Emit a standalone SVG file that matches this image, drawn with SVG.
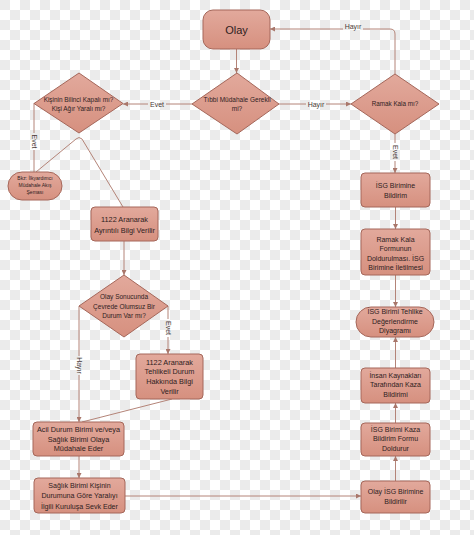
<svg xmlns="http://www.w3.org/2000/svg" width="474" height="535" viewBox="0 0 474 535">
<defs>
<pattern id="chk" x="0" y="0" width="20" height="20" patternUnits="userSpaceOnUse">
<rect width="20" height="20" fill="#ffffff"/>
<rect width="10" height="10" fill="#ebebeb"/>
<rect x="10" y="10" width="10" height="10" fill="#ebebeb"/>
</pattern>
<linearGradient id="nodeFill" x1="0" y1="0" x2="0" y2="1">
<stop offset="0" stop-color="#e2a99c"/>
<stop offset="1" stop-color="#d6907f"/>
</linearGradient>
<marker id="arr" viewBox="0 0 6 6" refX="6" refY="3" markerWidth="5" markerHeight="5" orient="auto" markerUnits="userSpaceOnUse">
<path d="M0,0 L6,3 L0,6 Z" fill="#a9776b"/>
</marker>
</defs>
<style>
.n{fill:url(#nodeFill);stroke:#a5675a;stroke-width:1}
.t{font-family:"Liberation Sans",Arial,sans-serif;fill:#2e211e;text-anchor:middle}
.c{fill:none;stroke:#b48478;stroke-width:1}
.l{font-family:"Liberation Sans",Arial,sans-serif;fill:#4a3a36;font-size:7px;text-anchor:middle}
</style>
<rect width="474" height="535" fill="url(#chk)"/>

<g id="connectors">
<path class="c" d="M236.5 49 V73" marker-end="url(#arr)"/>
<path class="c" d="M192 104 H166"/>
<path class="c" d="M148 104 H123" marker-end="url(#arr)"/>
<text class="l" x="157" y="106.5">Evet</text>
<path class="c" d="M279 104 H306"/>
<path class="c" d="M326 104 H351" marker-end="url(#arr)"/>
<text class="l" x="316" y="106.5">Hayır</text>
<path class="c" d="M395 74 V34 Q395 29 390 29 H363"/>
<path class="c" d="M343 29 H270" marker-end="url(#arr)"/>
<text class="l" x="353" y="28.8">Hayır</text>
<path class="c" d="M395 134 V143"/>
<path class="c" d="M395 161 V173" marker-end="url(#arr)"/>
<text class="l" transform="translate(395 152) rotate(90)" x="0" y="2.5">Evet</text>
<path class="c" d="M395.5 207 V229" marker-end="url(#arr)"/>
<path class="c" d="M395.5 275 V307" marker-end="url(#arr)"/>
<path class="c" d="M395.5 368 V337" marker-end="url(#arr)"/>
<path class="c" d="M395.5 423 V403" marker-end="url(#arr)"/>
<path class="c" d="M395.5 481 V456" marker-end="url(#arr)"/>
<path class="c" d="M125 496 H361" marker-end="url(#arr)"/>
<path class="c" d="M34 103 V133"/>
<path class="c" d="M34 150 V172"/>
<text class="l" transform="translate(34 141.5) rotate(90)" x="0" y="2.5">Evet</text>
<path class="c" d="M36 172 L76 139 Q79 136 82 139 L123 207"/>
<path class="c" d="M124 241 V275" marker-end="url(#arr)"/>
<path class="c" d="M79 306 V356"/>
<path class="c" d="M79 375 V422" marker-end="url(#arr)"/>
<text class="l" transform="translate(79 365.5) rotate(90)" x="0" y="2.5">Hayır</text>
<path class="c" d="M168 306 V319"/>
<path class="c" d="M168 337 V354" marker-end="url(#arr)"/>
<text class="l" transform="translate(168 328) rotate(90)" x="0" y="2.5">Evet</text>
<path class="c" d="M172 399 L82 422"/>
<path class="c" d="M79 456 V478" marker-end="url(#arr)"/>
</g>

<g id="olay">
<rect class="n" x="203" y="10" width="67" height="39" rx="10"/>
<text class="t" x="236.5" y="33.5" font-size="11">Olay</text>
</g>
<g id="tibbi">
<polygon class="n" points="237,73 279,104 237,134 192,104"/>
<text class="t" font-size="6.5"><tspan x="237" y="101.8">Tıbbi Müdahale Gerekli</tspan><tspan x="237" y="111.3">mi?</tspan></text>
</g>
<g id="bilinc">
<polygon class="n" points="79,73 123,103.5 79,133 34,103.5"/>
<text class="t" font-size="6.4"><tspan x="78.5" y="101.6">Kişinin Bilinci Kapalı mı?</tspan><tspan x="78.5" y="110.6">Kişi Ağır Yaralı mı?</tspan></text>
</g>
<g id="ramak">
<polygon class="n" points="395,74 439,104 395,134 351,104"/>
<text class="t" font-size="6.3" x="395" y="106.3">Ramak Kala mı?</text>
</g>
<g id="bkz">
<rect class="n" x="8" y="172" width="54" height="28" rx="14"/>
<text class="t" font-size="5"><tspan x="35" y="179.8">Bkz: İlkyardımcı</tspan><tspan x="35" y="186.8">Müdahale Akış</tspan><tspan x="35" y="193.8">Şeması</tspan></text>
</g>
<g id="ayrintili">
<rect class="n" x="91" y="207" width="67" height="34" rx="4"/>
<text class="t" font-size="7.3"><tspan x="124.5" y="221.8">1122 Aranarak</tspan><tspan x="124.5" y="232.5">Ayrıntılı Bilgi Verilir</tspan></text>
</g>
<g id="sonucunda">
<polygon class="n" points="124,275 168,306 124,337 79,306"/>
<text class="t" font-size="6.5"><tspan x="124" y="299.3">Olay Sonucunda</tspan><tspan x="124" y="308.6">Çevrede Olumsuz Bir</tspan><tspan x="124" y="317.9">Durum Var mı?</tspan></text>
</g>
<g id="tehlikeli">
<rect class="n" x="136" y="354" width="67" height="45" rx="4"/>
<text class="t" font-size="7.3"><tspan x="169.5" y="364.5">1122 Aranarak</tspan><tspan x="169.5" y="374.2">Tehlikeli Durum</tspan><tspan x="169.5" y="383.9">Hakkında Bilgi</tspan><tspan x="169.5" y="393.6">Verilir</tspan></text>
</g>
<g id="acil">
<rect class="n" x="33" y="422" width="91" height="34" rx="4"/>
<text class="t" font-size="7.3"><tspan x="78.5" y="432">Acil Durum Birimi ve/veya</tspan><tspan x="78.5" y="441.6">Sağlık Birimi Olaya</tspan><tspan x="78.5" y="451.2">Müdahale Eder</tspan></text>
</g>
<g id="saglik">
<rect class="n" x="34" y="478" width="91" height="35" rx="4"/>
<text class="t" font-size="7.1"><tspan x="79.5" y="488.3">Sağlık Birimi Kişinin</tspan><tspan x="79.5" y="498.4">Durumuna Göre  Yaralıyı</tspan><tspan x="79.5" y="508.5">İlgili Kuruluşa Sevk Eder</tspan></text>
</g>
<g id="isg-bildirim">
<rect class="n" x="361" y="173" width="69" height="34" rx="4"/>
<text class="t" font-size="7"><tspan x="395.5" y="188.2">İSG Birimine</tspan><tspan x="395.5" y="197.6">Bildirim</tspan></text>
</g>
<g id="ramak-form">
<rect class="n" x="361" y="229" width="69" height="46" rx="4"/>
<text class="t" font-size="7"><tspan x="395.5" y="241.8">Ramak Kala</tspan><tspan x="395.5" y="251.3">Formunun</tspan><tspan x="395.5" y="260.8">Doldurulması. İSG</tspan><tspan x="395.5" y="270.3">Birimine İletilmesi</tspan></text>
</g>
<g id="tehlike">
<rect class="n" x="356" y="307" width="78" height="30" rx="15"/>
<text class="t" font-size="7"><tspan x="395" y="314.3">İSG Birimi Tehlike</tspan><tspan x="395" y="323.9">Değerlendirme</tspan><tspan x="395" y="333.4">Diyagramı</tspan></text>
</g>
<g id="insan">
<rect class="n" x="361" y="368" width="69" height="35" rx="4"/>
<text class="t" font-size="7"><tspan x="395.5" y="377.6">İnsan Kaynakları</tspan><tspan x="395.5" y="387.3">Tarafından Kaza</tspan><tspan x="395.5" y="397">Bildirimi</tspan></text>
</g>
<g id="kaza-form">
<rect class="n" x="361" y="423" width="69" height="33" rx="4"/>
<text class="t" font-size="7"><tspan x="395.5" y="431.8">İSG Birimi Kaza</tspan><tspan x="395.5" y="441.3">Bildirim Formu</tspan><tspan x="395.5" y="450.8">Doldurur</tspan></text>
</g>
<g id="olay-isg">
<rect class="n" x="361" y="481" width="69" height="32" rx="4"/>
<text class="t" font-size="7"><tspan x="395.5" y="494.2">Olay İSG Birimine</tspan><tspan x="395.5" y="503.6">Bildirilir</tspan></text>
</g>
</svg>
